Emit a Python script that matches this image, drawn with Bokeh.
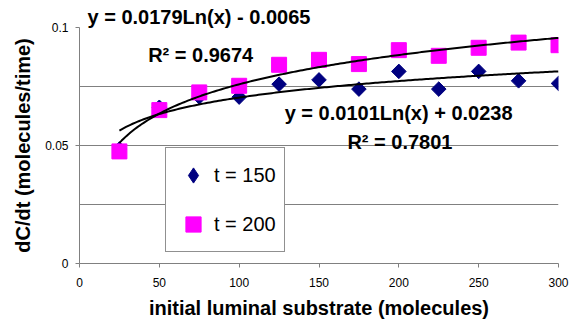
import numpy as np
from bokeh.plotting import figure
from bokeh.models import Range1d, FixedTicker, Label, Legend, LegendItem, Title
from bokeh.embed import file_html
from bokeh.resources import INLINE

# ---- data ----
substrate = [25, 50, 75, 100, 125, 150, 175, 200, 225, 250, 275, 300]
rate_t150 = [0.0485, 0.0662, 0.0706, 0.0705, 0.0760, 0.0778, 0.0739, 0.0814, 0.0739, 0.0814, 0.0774, 0.0763]
rate_t200 = [0.0475, 0.0650, 0.0725, 0.0753, 0.0842, 0.0863, 0.0845, 0.0904, 0.0880, 0.0914, 0.0936, 0.0925]

series_labels = ["t = 150", "t = 200"]

# logarithmic trendlines shown on the chart: y = a*Ln(x) + b
fit150_a, fit150_b, fit150_r2 = 0.0101, 0.0238, "0.7801"
fit200_a, fit200_b, fit200_r2 = 0.0179, -0.0065, "0.9674"

x_ticks = [0, 50, 100, 150, 200, 250, 300]
y_ticks = [0, 0.05, 0.1]
y_minor = [0.025, 0.075]

x_title = "initial luminal substrate (molecules)"
y_title = "dC/dt (molecules/time)"

FONT = "Liberation Sans"
NAVY = "#000080"
MAGENTA = "#FF00FF"
GRID = "#808080"

def eq_text(a, b):
    sign = "-" if b < 0 else "+"
    return f"y = {a}Ln(x) {sign} {abs(b)}"

p = figure(width=575, height=324, output_backend="svg", toolbar_location=None,
           x_range=Range1d(0, 300), y_range=Range1d(0, 0.1),
           min_border_left=79, min_border_right=17, min_border_top=27, min_border_bottom=61)
p.outline_line_color = None
p.background_fill_color = "white"

# top trendline equation sits above the plotting area
p.title = Title(text=eq_text(fit200_a, fit200_b), align="left", offset=8, standoff=0,
                text_font=FONT, text_font_size="20px", text_font_style="bold",
                text_color="black")

# axes
for ax in (p.xaxis[0], p.yaxis[0]):
    ax.axis_line_color = GRID
    ax.major_tick_line_color = GRID
    ax.major_tick_out = 4
    ax.major_tick_in = 0
    ax.minor_tick_out = 0
    ax.minor_tick_in = 0
    ax.major_label_text_font = FONT
    ax.major_label_text_font_size = "12px"
    ax.major_label_text_color = "black"
    ax.axis_label_text_font = FONT
    ax.axis_label_text_font_size = "20px"
    ax.axis_label_text_font_style = "bold"
    ax.axis_label_text_color = "black"

p.xaxis.ticker = FixedTicker(ticks=x_ticks)
p.yaxis.ticker = FixedTicker(ticks=y_ticks, minor_ticks=y_minor)
p.yaxis.major_label_overrides = {0: "0", 0.05: "0.05", 0.1: "0.1"}
p.xaxis.axis_label = x_title
p.yaxis.axis_label = y_title
p.xaxis.major_label_standoff = 10
p.xaxis.axis_label_standoff = 7
p.yaxis.major_label_standoff = 7
p.yaxis.axis_label_standoff = 8

p.xgrid.grid_line_color = None
p.ygrid.grid_line_color = GRID
p.ygrid.minor_grid_line_color = GRID
p.ygrid.grid_line_width = 1

# data points
r150 = p.scatter(substrate, rate_t150, marker="square", angle=np.pi / 4, size=10.3,
                 fill_color=NAVY, line_color=NAVY)
r200 = p.scatter(substrate, rate_t200, marker="square", size=15,
                 fill_color=MAGENTA, line_color=MAGENTA)

# legend proxies (legend glyphs are drawn unrotated), hidden from the plot itself
leg150 = p.scatter(substrate, rate_t150, marker="diamond", fill_color=NAVY, line_color=NAVY,
                   visible=False)
leg200 = p.scatter(substrate, rate_t200, marker="square", fill_color=MAGENTA, line_color=MAGENTA,
                   visible=False)

# trendlines
xs = np.linspace(min(substrate), max(substrate), 200)
p.line(xs, fit150_a * np.log(xs) + fit150_b, line_color="black", line_width=2)
p.line(xs, fit200_a * np.log(xs) + fit200_b, line_color="black", line_width=2)

labels = [
    ("R\u00b2 = " + fit200_r2, 43.0, 0.0884),
    (eq_text(fit150_a, fit150_b), 128.5, 0.0639),
    ("R\u00b2 = " + fit150_r2, 167.8, 0.0513),
]
for txt, lx, ly in labels:
    p.add_layout(Label(x=lx, y=ly, text=txt, text_font=FONT, text_font_size="20px",
                       text_font_style="bold", text_color="black",
                       text_align="left", text_baseline="alphabetic"))

legend = Legend(items=[LegendItem(label=series_labels[0], renderers=[leg150]),
                       LegendItem(label=series_labels[1], renderers=[leg200])],
                location=(86, 11), orientation="vertical",
                glyph_width=38, glyph_height=38, label_standoff=2,
                padding=8, spacing=11, margin=0,
                label_text_font=FONT, label_text_font_size="20px", label_text_color="black",
                border_line_color="#222222", border_line_width=1,
                background_fill_color="white", background_fill_alpha=1.0)
p.add_layout(legend)

open("out.html", "w").write(file_html(p, INLINE))
